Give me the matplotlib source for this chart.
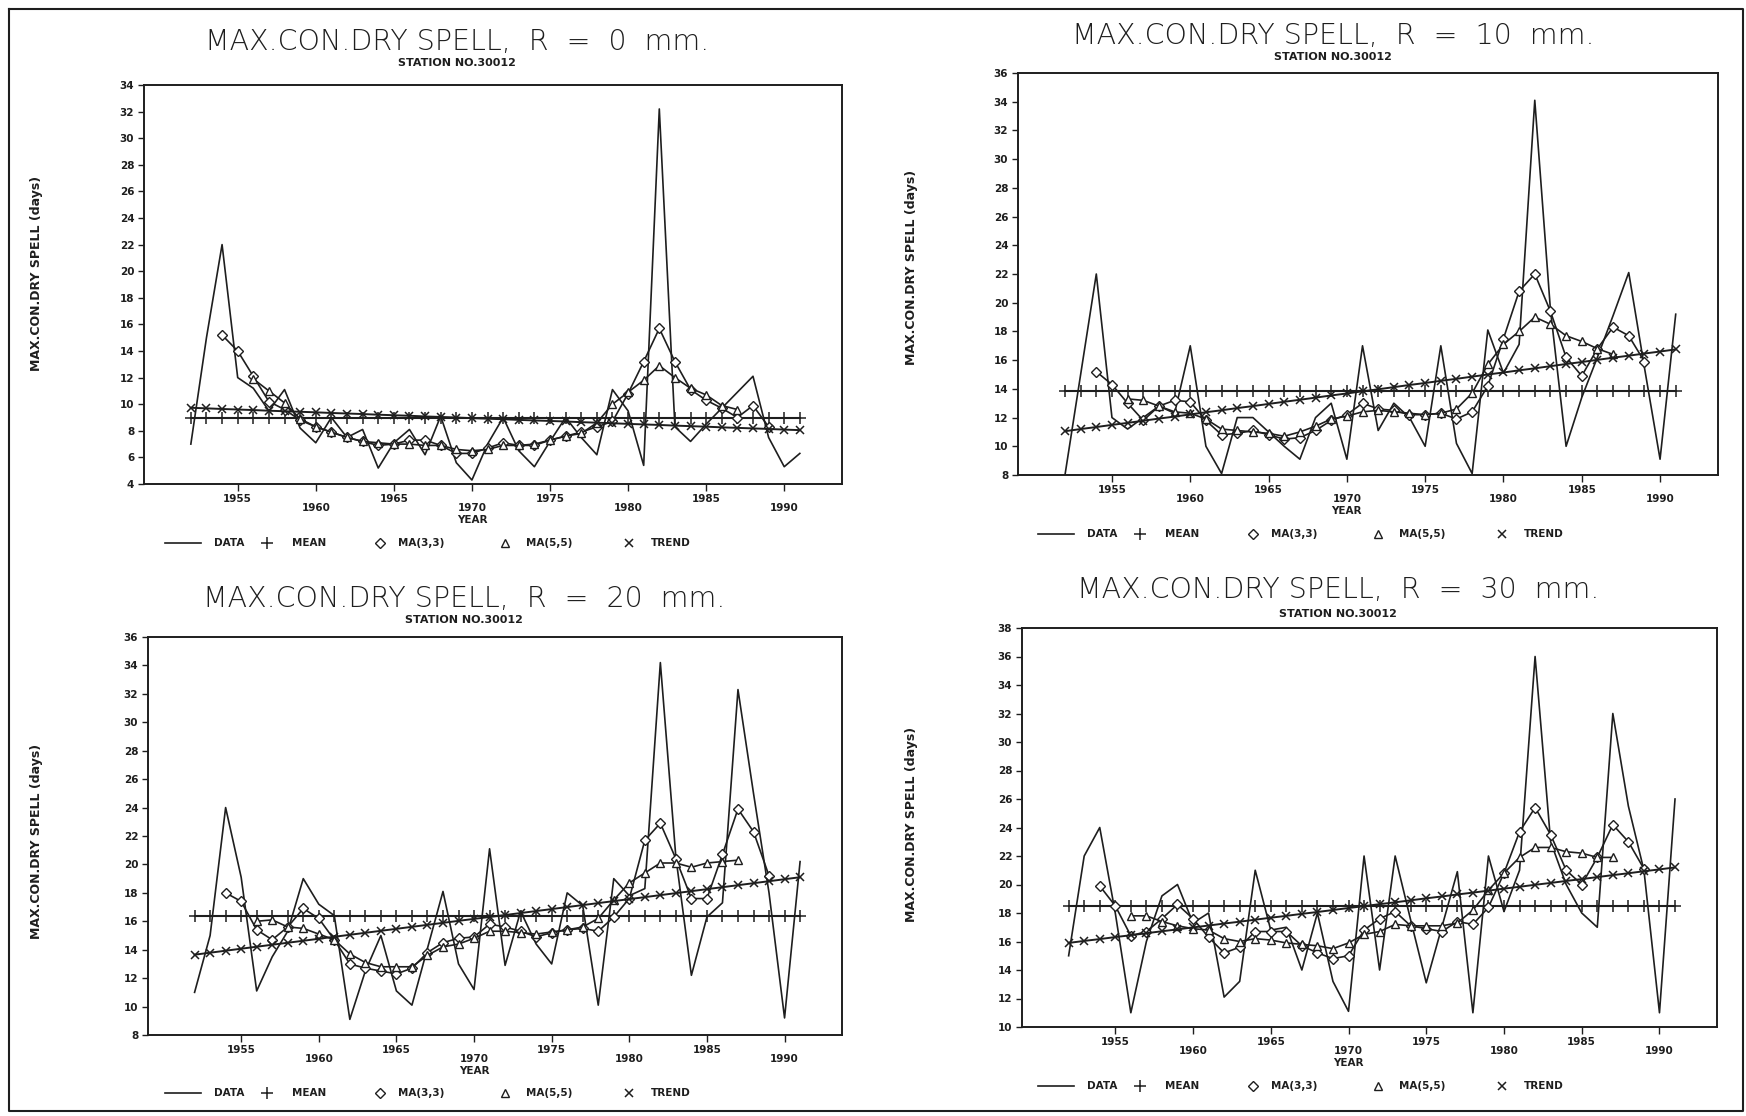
import matplotlib
matplotlib.use('Agg')
import matplotlib.pyplot as plt

plt.rcParams['font.family'] = ['DejaVu Sans']

years = list(range(1952, 1992))

# R = 0 mm
data_r0 = [7.0, 15.0, 22.0, 12.0, 11.2, 9.5, 11.1, 8.2, 7.1, 9.0,
           7.5, 8.1, 5.2, 7.1, 8.1, 6.2, 9.1, 5.6, 4.3, 7.0,
           9.0, 6.5, 5.3, 7.2, 9.0, 7.5, 6.2, 11.1, 9.5, 5.4,
           32.2, 8.3, 7.2, 8.5, 9.7, 10.9, 12.1, 7.5, 5.3, 6.3]
ma33_r0 = [15.2, 14.0, 12.1, 10.2, 9.6, 8.8, 8.3, 7.9, 7.5, 7.2,
           6.9, 7.0, 7.3, 7.3, 6.9, 6.3, 6.3, 6.7, 7.1, 6.9,
           6.9, 7.3, 7.6, 7.9, 8.3, 8.7, 10.8, 13.2, 15.7, 13.2,
           11.1, 10.3, 9.7, 9.0, 9.9, 8.3]
ma55_r0 = [11.9, 11.0, 10.1, 8.9, 8.3, 7.9, 7.5, 7.2, 7.1, 7.0,
           7.0, 6.9, 6.9, 6.6, 6.5, 6.6, 6.9, 6.9, 7.0, 7.3,
           7.6, 7.8, 8.6, 10.0, 10.9, 11.8, 12.9, 12.0, 11.2, 10.7,
           9.9, 9.6]
trend_r0 = [9.73, 9.69, 9.64, 9.60, 9.56, 9.51, 9.47, 9.43, 9.39, 9.34,
            9.30, 9.26, 9.21, 9.17, 9.13, 9.08, 9.04, 9.00, 8.95, 8.91,
            8.87, 8.82, 8.78, 8.74, 8.70, 8.65, 8.61, 8.57, 8.52, 8.48,
            8.44, 8.39, 8.35, 8.31, 8.26, 8.22, 8.18, 8.14, 8.09, 8.05]
mean_r0 = 8.95

# R = 10 mm
data_r10 = [8.0, 15.0, 22.0, 12.0, 11.2, 12.0, 12.8, 12.3, 17.0, 10.0,
            8.1, 12.0, 12.0, 11.0, 10.0, 9.1, 12.0, 13.0, 9.1, 17.0,
            11.1, 13.0, 12.0, 10.0, 17.0, 10.2, 8.1, 18.1, 15.1, 17.1,
            34.1, 19.5, 10.0, 13.4, 16.2, 19.1, 22.1, 15.5, 9.1, 19.2]
ma33_r10 = [15.2, 14.3, 13.0, 11.8, 12.8, 13.2, 13.1, 11.8, 10.8, 10.9,
            11.1, 10.8, 10.5, 10.6, 11.1, 11.8, 12.2, 13.0, 12.6, 12.5,
            12.2, 12.2, 12.3, 11.9, 12.4, 14.2, 17.5, 20.8, 22.0, 19.4,
            16.2, 14.9, 16.8, 18.3, 17.7, 15.9]
ma55_r10 = [13.3, 13.2, 12.8, 12.4, 12.3, 11.9, 11.2, 11.1, 11.0, 10.9,
            10.7, 11.0, 11.4, 11.9, 12.1, 12.4, 12.5, 12.4, 12.3, 12.2,
            12.3, 12.6, 13.7, 15.7, 17.1, 18.0, 19.0, 18.5, 17.7, 17.3,
            16.8, 16.4]
trend_r10 = [11.05, 11.20, 11.34, 11.49, 11.63, 11.78, 11.93, 12.07, 12.22, 12.37,
             12.51, 12.66, 12.80, 12.95, 13.10, 13.24, 13.39, 13.54, 13.68, 13.83,
             13.97, 14.12, 14.27, 14.41, 14.56, 14.70, 14.85, 15.00, 15.14, 15.29,
             15.43, 15.58, 15.73, 15.87, 16.02, 16.17, 16.31, 16.46, 16.60, 16.75]
mean_r10 = 13.85

# R = 20 mm
data_r20 = [11.0, 15.0, 24.0, 19.1, 11.1, 13.5, 15.3, 19.0, 17.2, 16.4,
            9.1, 12.5, 15.0, 11.1, 10.1, 14.1, 18.1, 13.0, 11.2, 21.1,
            12.9, 16.7, 14.4, 13.0, 18.0, 17.1, 10.1, 19.0, 17.8, 18.3,
            34.2, 20.5, 12.2, 16.3, 17.3, 32.3, 25.0, 18.0, 9.2, 20.2]
ma33_r20 = [18.0, 17.4, 15.4, 14.7, 15.6, 16.9, 16.2, 14.7, 13.0, 12.7,
            12.5, 12.3, 12.7, 13.8, 14.5, 14.8, 14.9, 15.8, 15.6, 15.3,
            14.9, 15.2, 15.4, 15.5, 15.3, 16.3, 17.6, 21.7, 22.9, 20.4,
            17.6, 17.6, 20.7, 23.9, 22.3, 19.2]
ma55_r20 = [16.0, 16.1, 15.6, 15.5, 15.1, 14.7, 13.7, 13.1, 12.8, 12.8,
            12.8, 13.6, 14.2, 14.4, 14.8, 15.3, 15.3, 15.2, 15.1, 15.25,
            15.4, 15.6, 16.2, 17.5, 18.7, 19.4, 20.1, 20.1, 19.8, 20.1,
            20.2, 20.3]
trend_r20 = [13.65, 13.79, 13.93, 14.07, 14.21, 14.35, 14.49, 14.63, 14.77, 14.91,
             15.05, 15.19, 15.33, 15.47, 15.61, 15.75, 15.89, 16.03, 16.17, 16.30,
             16.44, 16.58, 16.72, 16.86, 17.00, 17.14, 17.28, 17.42, 17.56, 17.70,
             17.84, 17.98, 18.12, 18.26, 18.40, 18.54, 18.68, 18.82, 18.96, 19.10]
mean_r20 = 16.35

# R = 30 mm
data_r30 = [15.0, 22.0, 24.0, 18.0, 11.0, 16.0, 19.2, 20.0, 17.3, 18.0,
            12.1, 13.2, 21.0, 16.8, 17.0, 14.0, 18.0, 13.2, 11.1, 22.0,
            14.0, 22.0, 17.5, 13.1, 17.0, 20.9, 11.0, 22.0, 18.1, 21.0,
            36.0, 23.0, 20.0, 18.0, 17.0, 32.0, 25.5, 21.0, 11.0, 26.0]
ma33_r30 = [19.9, 18.5, 16.4, 16.7, 17.6, 18.6, 17.6, 16.3, 15.2, 15.6,
            16.7, 16.7, 16.7, 15.7, 15.2, 14.8, 15.0, 16.8, 17.6, 18.1,
            17.1, 16.9, 16.7, 17.4, 17.2, 18.4, 20.8, 23.7, 25.4, 23.5,
            21.0, 20.0, 21.9, 24.2, 23.0, 21.1]
ma55_r30 = [17.8, 17.8, 17.4, 17.1, 16.9, 16.8, 16.2, 16.0, 16.2, 16.1,
            15.9, 15.8, 15.7, 15.5, 15.9, 16.5, 16.7, 17.2, 17.1, 17.1,
            17.1, 17.3, 18.2, 19.6, 20.8, 21.9, 22.6, 22.6, 22.3, 22.2,
            21.9, 21.9]
trend_r30 = [15.90, 16.04, 16.17, 16.31, 16.44, 16.58, 16.72, 16.85, 16.99, 17.12,
             17.26, 17.39, 17.53, 17.67, 17.80, 17.94, 18.07, 18.21, 18.35, 18.48,
             18.62, 18.75, 18.89, 19.03, 19.16, 19.30, 19.43, 19.57, 19.71, 19.84,
             19.98, 20.11, 20.25, 20.38, 20.52, 20.66, 20.79, 20.93, 21.06, 21.20]
mean_r30 = 18.5

titles = ['MAX.CON.DRY SPELL,  R  =  0  mm.', 'MAX.CON.DRY SPELL,  R  =  10  mm.',
          'MAX.CON.DRY SPELL,  R  =  20  mm.', 'MAX.CON.DRY SPELL,  R  =  30  mm.']
station = 'STATION NO.30012'
ylabel = 'MAX.CON.DRY SPELL (days)'
legend_labels = ['DATA', 'MEAN', 'MA(3,3)', 'MA(5,5)', 'TREND']

W, H = 1746, 1116
ink = '#1e1e1e'

fig = plt.figure(figsize=(W / 100, H / 100), dpi=100)

# layout in pixels: axes box, title pos, station pos, ylabel pos, legend start
boxes = [(144, 85, 842, 484), (1018, 73, 1718, 475),
         (148, 637, 842, 1035), (1022, 628, 1717, 1027)]
title_pos = [(457, 42), (1333, 36), (464, 599), (1338, 590)]
station_pos = [(457, 63), (1333, 57), (464, 620), (1338, 614)]
ylab_pos = [(37, 273), (911, 267), (37, 841), (911, 824)]
leg_pos = [(165, 543), (1038, 534), (165, 1093), (1038, 1086)]
ylims = [(4, 34), (8, 36), (8, 36), (10, 38)]

series = [(data_r0, ma33_r0, ma55_r0, trend_r0, mean_r0),
          (data_r10, ma33_r10, ma55_r10, trend_r10, mean_r10),
          (data_r20, ma33_r20, ma55_r20, trend_r20, mean_r20),
          (data_r30, ma33_r30, ma55_r30, trend_r30, mean_r30)]

for i, (data, ma33, ma55, trend, mean) in enumerate(series):
    x0, y0, x1, y1 = boxes[i]
    ax = fig.add_axes([x0 / W, 1 - y1 / H, (x1 - x0) / W, (y1 - y0) / H])
    ax.plot(years, data, '-', color=ink, lw=1.2)
    ax.plot(years, [mean] * len(years), '-', color=ink, lw=1.5,
            marker='+', ms=8, mew=1.1)
    ax.plot(years[2:-2], ma33, '-', color=ink, lw=1.2, marker='D', ms=5,
            mfc='white', mec=ink, mew=1.0)
    ax.plot(years[4:-4], ma55, '-', color=ink, lw=1.2, marker='^', ms=6,
            mfc='white', mec=ink, mew=1.0)
    ax.plot(years, trend, '-', color=ink, lw=1.4, marker='x', ms=6, mew=1.1)

    ax.set_xlim(1949, 1993.7)
    lo, hi = ylims[i]
    ax.set_ylim(lo, hi)
    ax.set_yticks(range(lo, hi + 1, 2))
    ax.set_xticks([1955, 1965, 1975, 1985])
    ax.set_xticks([1960, 1970, 1980, 1990], minor=True)
    ax.set_xticklabels(['1955', '1965', '1975', '1985'])
    ax.set_xticklabels(['1960', '1970', '1980', '1990'], minor=True)
    ax.tick_params(axis='y', direction='out', length=4, width=1.0,
                   labelsize=7.5, pad=3, colors=ink)
    ax.tick_params(axis='x', which='both', direction='out', length=5,
                   width=1.0, labelsize=7.5, colors=ink)
    ax.tick_params(axis='x', which='major', pad=2)
    ax.tick_params(axis='x', which='minor', pad=9)
    for lab in ax.get_xticklabels(which='both') + ax.get_yticklabels():
        lab.set_fontweight('bold')
    for sp in ax.spines.values():
        sp.set_linewidth(1.4)
        sp.set_color(ink)
    ax.annotate('YEAR', xy=(1970, 0), xycoords=('data', 'axes fraction'),
                xytext=(0, -26), textcoords='offset points', ha='center',
                va='center', fontsize=7.5, fontweight='bold', color=ink)

# overlay in pixel coordinates for titles, labels, legends and frame
ov = fig.add_axes([0, 0, 1, 1])
ov.set_xlim(0, W)
ov.set_ylim(H, 0)
ov.axis('off')
ov.patch.set_alpha(0)

ov.plot([9, 1743, 1743, 9, 9], [9, 9, 1111, 1111, 9], color=ink, lw=1.5)

for i in range(4):
    tx, ty = title_pos[i]
    ov.text(tx, ty, titles[i], ha='center', va='center', fontsize=20.5,
            fontweight='light', color=ink)
    sx, sy = station_pos[i]
    ov.text(sx, sy, station, ha='center', va='center', fontsize=8,
            fontweight='bold', color=ink)
    lx, ly = ylab_pos[i]
    ov.text(lx, ly, ylabel, ha='center', va='center', rotation=90,
            fontsize=9, fontweight='bold', color=ink)

    gx, gy = leg_pos[i]
    ov.plot([gx, gx + 36], [gy, gy], color=ink, lw=1.2)
    ov.plot([gx + 102], [gy], marker='+', ms=8, mew=1.1, color=ink)
    ov.plot([gx + 215], [gy], marker='D', ms=5, mfc='white', mec=ink, mew=1.0)
    ov.plot([gx + 340], [gy], marker='^', ms=6, mfc='white', mec=ink, mew=1.0)
    ov.plot([gx + 464], [gy], marker='x', ms=6, mew=1.1, color=ink)
    for off, lab in zip([49, 127, 233, 361, 486], legend_labels):
        ov.text(gx + off, gy, lab, ha='left', va='center', fontsize=7.5,
                fontweight='bold', color=ink)

fig.savefig('out.png', dpi=100, facecolor='white')
